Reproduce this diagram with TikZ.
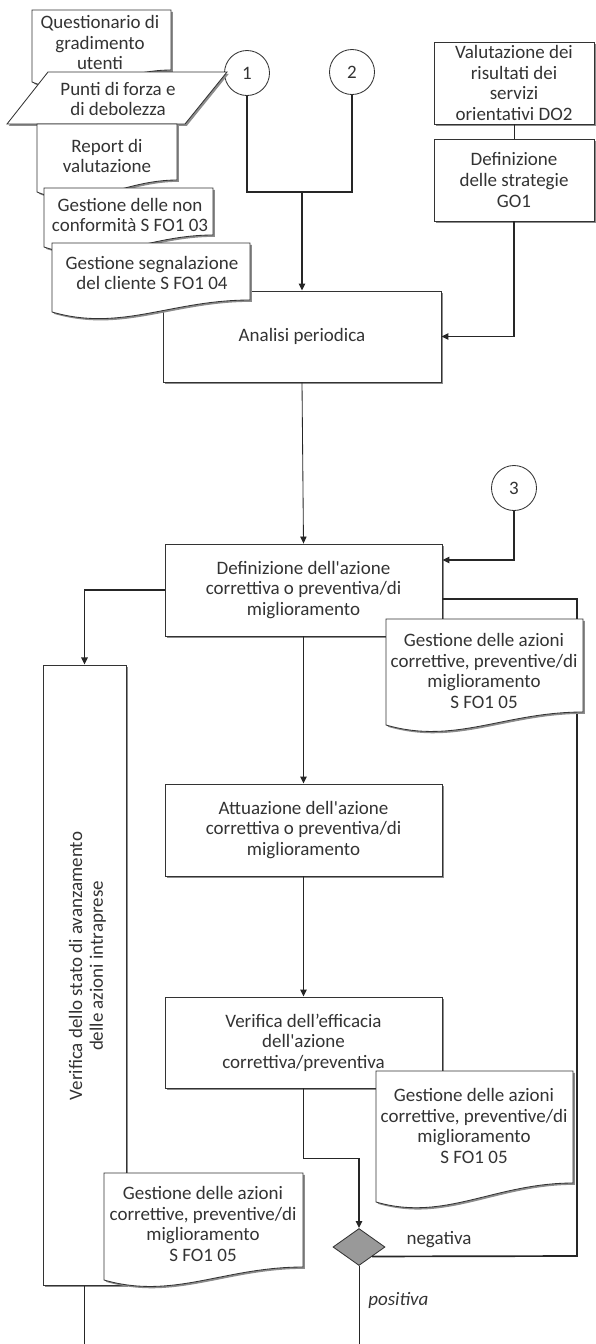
\documentclass[tikz,border=0pt]{standalone}
\usepackage{fontspec}
\setmainfont{Carlito}
\usetikzlibrary{positioning,shapes.geometric,arrows.meta,shadows,calc}
\newcommand{\gdoc}[8]{%
	\draw[docu] (#2,#4) -- (#3,#4) -- (#3,#6) .. controls ({#2+0.6*(#3-#2)},#6) and ({#2+0.35*(#3-#2)},{#5+20}) .. (#2,#5) -- cycle;
	\node[txt] (#1) at (#7) {#8};
}

\begin{document}
\begin{tikzpicture}[x=0.025cm,y=-0.025cm,
	font=\fontsize{13.5}{14.7}\selectfont,
	shad/.style={drop shadow={shadow xshift=1.3pt,shadow yshift=-1.3pt,fill=black!45,opacity=1}},
	box/.style={draw=black!80, fill=white, line width=0.6pt, shad, align=center, text=black!80, inner sep=2pt},
	docu/.style={draw=black!80, fill=white, line width=0.6pt, shad},
	txt/.style={align=center, text=black!80, inner sep=0pt},
	circ/.style={circle, draw=black!80, fill=white, line width=0.6pt, minimum size=1.125cm, inner sep=0pt, text=black!80},
	conn/.style={draw=black!85, line width=0.6pt},
	tconn/.style={draw=black!85, line width=1.2pt},
	arr/.style={-{Triangle[length=5pt,width=4.5pt]}}]
		\useasboundingbox (0,0) rectangle (595,1344);
		\node[circ] (c1) at (247,73) {1};
		\node[circ] (c2) at (352,72) {2};
		\node[circ] (c3) at (514,488) {3};
		\node[box, minimum width=4cm, minimum height=2.05cm] (valut) at (514,83) {Valutazione dei\\risultati dei\\servizi\\orientativi DO2};
		\node[box, minimum width=4cm, minimum height=2.05cm] (defstr) at (514,180) {Definizione\\delle strategie\\GO1};
		\node[box, minimum width=6.95cm, minimum height=2.275cm] (ana) at (302,336.5) {Analisi periodica};
		\node[box, minimum width=6.925cm, minimum height=2.3cm] (defaz) at (303.5,590) {Definizione dell\textquotesingle azione\\correttiva o preventiva/di\\miglioramento};
		\node[box, minimum width=6.925cm, minimum height=2.3cm] (attu) at (303.5,830) {Attuazione dell\textquotesingle azione\\correttiva o preventiva/di\\miglioramento};
		\node[box, minimum width=6.925cm, minimum height=2.275cm] (verif) at (303.5,1042.5) {Verifica dell’efficacia\\dell\textquotesingle azione\\correttiva/preventiva};
		\node[box, minimum width=2.075cm, minimum height=15.5cm] (stato) at (84.5,975) {};
		\node[txt, rotate=90] (statotxt) at (87.5,966) {Verifica dello stato di avanzamento\\delle azioni intraprese};
		\node[diamond, draw=black!80, fill=black!40, line width=0.6pt, minimum width=1.3cm, minimum height=0.925cm, inner sep=0pt] (dia) at (359,1247) {};
		\node[txt] (neg) at (439,1240) {negativa};
		\node[txt, anchor=west] (pos) at (368,1300) {\itshape positiva};
		\coordinate (j12) at (302,192);
		\coordinate (rloop) at (577,1256);
		\coordinate (endL) at (84.5,1344);
		\coordinate (endR) at (359,1344);
		\draw[tconn] (c1.south) |- (j12) -| (c2.south);
		\draw[tconn, arr] (j12) -- (ana.north);
		\draw[conn] (valut.south) -- (defstr.north);
		\draw[tconn, arr] (defstr.south) |- (ana.east);
		\draw[conn, arr] (ana.south) -- (defaz.north);
		\draw[tconn, arr] (c3.south) |- ([yshift=0.75cm]defaz.east);
		\draw[tconn, arr] (defaz.west) -| (stato.north);
		\draw[tconn] ([yshift=-0.225cm]defaz.east) -| (rloop) -- (dia.south east);
		\draw[tconn, arr] (defaz.south) -- (attu.north);
		\draw[tconn, arr] (attu.south) -- (verif.north);
		\draw[tconn, arr] (verif.south) -- ++(0,70) -| (dia.north);
		\draw[conn] (dia.south) -- (endR);
		\draw[tconn] (stato.south) -- (endL);
		\gdoc{quest}{32}{171}{10}{82}{70}{100,42.5}{Questionario di\\gradimento\\utenti}
		\draw[docu] (48,72) -- (227,72) -- (185,124) -- (7,124) -- cycle;
		\node[txt] (punti) at (118,99) {Punti di forza e\\di debolezza};
		\gdoc{report}{37}{177}{124}{192}{180}{107,156}{Report di\\valutazione}
		\gdoc{nonconf}{44}{213}{188}{247}{235}{130,215}{Gestione delle non\\conformità S FO1 03}
		\gdoc{segn}{52}{250}{243}{312}{300}{152,273}{Gestione segnalazione\\del cliente S FO1 04}
		\gdoc{gestA}{386}{583}{619}{725}{712}{484,671}{Gestione delle azioni\\correttive, preventive/di\\miglioramento\\S FO1 05}
		\gdoc{gestB}{376}{573}{1071}{1202}{1183}{474,1126}{Gestione delle azioni\\correttive, preventive/di\\miglioramento\\S FO1 05}
		\gdoc{gestC}{104}{303}{1173}{1280}{1267}{203,1224}{Gestione delle azioni\\correttive, preventive/di\\miglioramento\\S FO1 05}
	\end{tikzpicture}
\end{document}
